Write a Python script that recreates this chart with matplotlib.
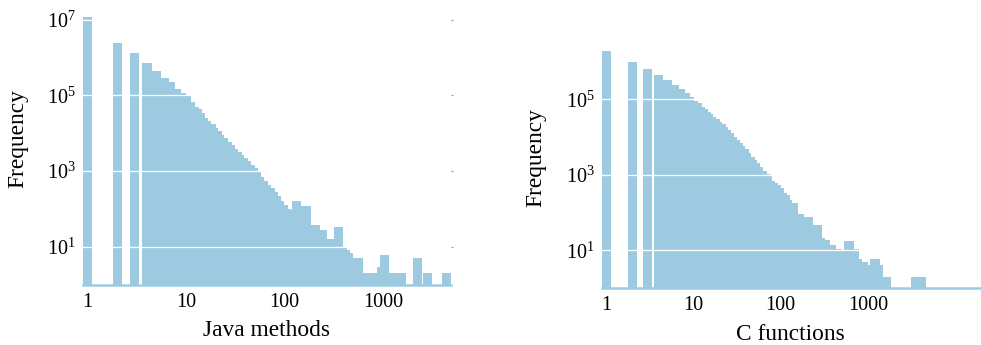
import numpy as np
import matplotlib
matplotlib.use("Agg")
from matplotlib import pyplot as plt
from matplotlib.ticker import NullLocator

plt.rcParams['font.family'] = 'Liberation Serif'
plt.rcParams['mathtext.fontset'] = 'custom'
plt.rcParams['mathtext.rm'] = 'Liberation Serif'
plt.rcParams['mathtext.it'] = 'Liberation Serif:italic'
plt.rcParams['mathtext.bf'] = 'Liberation Serif:bold'

# length bins (log binned, ~30 bins per decade) and how many methods / functions fall in each
java_len = [1, 2, 3, 4, 5, 6, 7, 8, 9, 10, 11, 12, 13, 14, 15, 16, 18, 19, 21, 22,
            24, 26, 28, 30, 33, 35, 38, 41, 45, 48, 52, 56, 61, 66, 71, 76, 83, 89,
            96, 104, 112, 121, 131, 141, 152, 165, 178, 192, 207, 224, 242, 261,
            282, 304, 329, 355, 383, 414, 447, 482, 521, 562, 607, 656, 708, 764,
            825, 891, 962, 1039, 1122, 1211, 1308, 1412, 1525, 2239, 2818, 4467]
java_freq = [11500000, 2370000, 1290000, 700000, 448000, 292000, 220000, 150000,
             115000, 98000, 68000, 50000, 42600, 33400, 25600, 21400, 17800, 14000,
             11400, 8900, 7300, 5960, 4860, 3890, 3240, 2650, 2160, 1840, 1440, 1230,
             962, 692, 545, 427, 348, 282, 214, 160, 126, 98, 92, 88, 161, 76, 70,
             121, 37, 37, 37, 28, 28, 16, 16, 14, 10, 34, 9, 8, 7, 5, 5, 5, 2, 2, 2,
             2, 2, 2, 3, 6, 2, 2, 2, 2, 2, 5, 2, 2]

c_len = [1, 2, 3, 4, 5, 6, 7, 8, 9, 10, 11, 12, 13, 14, 15, 16, 18, 19, 21, 22,
         24, 26, 28, 30, 33, 35, 38, 41, 45, 48, 52, 56, 61, 66, 71, 76, 83, 89,
         96, 104, 112, 121, 131, 141, 152, 165, 178, 192, 207, 224, 242, 261, 282,
         304, 329, 355, 383, 414, 447, 482, 521, 562, 607, 656, 708, 764, 825, 891,
         962, 1039, 1122, 1211, 1308, 1412, 1525, 1647, 3548, 3831, 4137]
c_freq = [1900000, 960000, 650000, 440000, 324000, 239000, 187000, 144000, 117000,
          92000, 78000, 64000, 54000, 47000, 40000, 33300, 29500, 25600, 22200,
          18800, 15400, 12600, 10200, 8400, 7100, 5800, 4700, 3860, 3000, 2470,
          2000, 1580, 1250, 1060, 990, 700, 595, 537, 438, 337, 292, 215, 183, 183,
          92, 92, 78, 78, 78, 47, 47, 47, 21, 19, 19, 14, 14, 11, 11, 10, 10, 10,
          18, 11, 11, 6, 5, 5, 4, 4, 4, 6, 4, 2, 2, 2, 2, 2, 2]

x_ticks = [1, 10, 100, 1000]
x_ticklabels = ['1', '10', '100', '1000']

BLUE = '#9ecae1'
W, H = 981, 345
BAR_PX = 9.3  # every bar is drawn with the same on-screen width

fig = plt.figure(figsize=(W / 100, H / 100), dpi=100)


def hist_panel(rect, lengths, freqs, xlim, ylim, yexp, xlabel, xlab_y, ylab_xy, right_ticks):
    ax = fig.add_axes([rect[0] / W, rect[1] / H, rect[2] / W, rect[3] / H])
    ax.set_xscale('log')
    ax.set_yscale('log')
    ax.set_xlim(xlim)
    ax.set_ylim(ylim)

    # half bar width in decades, so bars keep the same pixel width on a log axis
    px_per_dec = rect[2] / np.log10(xlim[1] / xlim[0])
    h = BAR_PX / 2 / px_per_dec
    x = np.array(lengths, dtype=float)
    left = x * 10 ** -h
    ax.bar(left, freqs, width=x * 10 ** h - left, align='edge',
           color=BLUE, linewidth=0)

    ax.set_axisbelow(False)
    ax.yaxis.grid(True, color='white', linewidth=0.9)
    ax.xaxis.grid(False)
    for s in ['top', 'left', 'right']:
        ax.spines[s].set_visible(False)
    ax.spines['bottom'].set_color(BLUE)
    ax.spines['bottom'].set_linewidth(1.8)

    ax.set_xticks(x_ticks, labels=x_ticklabels)
    ax.set_yticks([10.0 ** e for e in yexp],
                  labels=[r'$10^{%d}$' % e for e in yexp])
    ax.xaxis.set_minor_locator(NullLocator())
    ax.yaxis.set_minor_locator(NullLocator())
    ax.tick_params(axis='x', length=0, pad=6, labelsize=14.5)
    ax.tick_params(axis='y', length=0, pad=5, labelsize=14.5)
    if right_ticks:
        ax.tick_params(axis='y', which='major', right=True, labelright=False)
        for t in ax.yaxis.get_major_ticks():
            t.tick2line.set_markersize(1.5)
            t.tick2line.set_markeredgecolor('#999999')

    ax.set_xlabel(xlabel, fontsize=16.8, va='baseline')
    ax.xaxis.set_label_coords(0.4986, xlab_y)
    ax.set_ylabel('Frequency', fontsize=16.8, va='center')
    ax.yaxis.set_label_coords(*ylab_xy)
    return ax


hist_panel((83, 60.4, 368, 268), java_len, java_freq, (0.898, 4890), (1, 1.2e7),
           [1, 3, 5, 7], 'Java methods', -0.192, (-0.178, 0.545), True)
hist_panel((601.7, 56.95, 379.3, 237.85), c_len, c_freq, (0.888, 19870), (1, 2.0e6),
           [1, 3, 5], 'C functions', -0.218, (-0.173, 0.549), False)

fig.savefig('out.png', dpi=100)
